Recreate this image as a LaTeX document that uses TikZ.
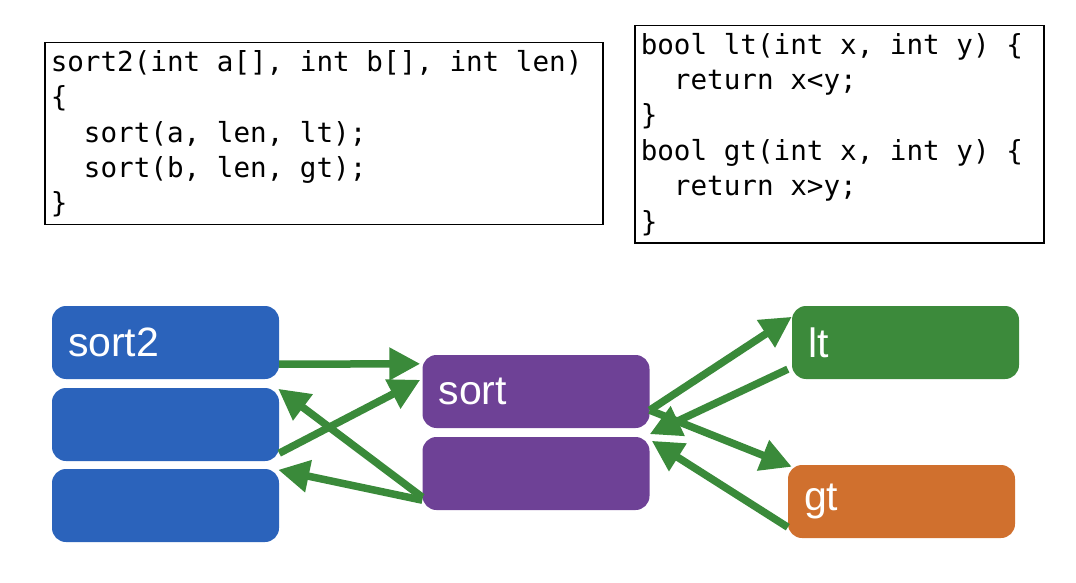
\documentclass[tikz,border=0pt]{standalone}
\usepackage{fontspec}
\setmainfont{Liberation Sans}
\newfontfamily\codefont{DejaVu Sans Mono}
\usetikzlibrary{arrows.meta}
\definecolor{blockblue}{HTML}{2B63BB}
\definecolor{blockpurple}{HTML}{6E4196}
\definecolor{blockgreen}{HTML}{3C8A3B}
\definecolor{blockorange}{HTML}{D0702E}
\definecolor{callgreen}{HTML}{3A8A3A}
% one monospaced blank
\newcommand{\spc}{\hphantom{x}}
\newcommand{\codeindent}{\hphantom{xx}}
\tikzset{
  codebox/.style={draw,line width=1.5pt,anchor=north west,align=left,
    inner xsep=6pt,inner ysep=0pt,
    font=\codefont\fontsize{27.6}{35.4}\selectfont},
  block/.style={rounded corners=14pt,minimum width=227pt,minimum height=73pt,
    text width=195pt,inner xsep=16pt,inner ysep=0pt,text=white,
    font=\fontsize{41}{48}\selectfont},
  call/.style={draw=callgreen,line width=7.5pt,
    -{Triangle[length=31pt,width=31pt]}}
}
\begin{document}
\begin{tikzpicture}[x=1pt,y=1pt]
  \useasboundingbox (0,0) rectangle (1076,582);
  % code
  \node[codebox,text width=546pt,minimum height=182pt] (sortcode) at (44,540)
    {sort2(int\spc a[],\spc int\spc b[],\spc int\spc len)\\
     \{\\
     \codeindent sort(a,\spc len,\spc lt);\\
     \codeindent sort(b,\spc len,\spc gt);\\
     \}};
  \node[codebox,text width=397pt,minimum height=217pt] (cmpcode) at (634,557)
    {bool\spc lt(int\spc x,\spc int\spc y)\spc \{\\
     \codeindent return\spc x<y;\\
     \}\\
     bool\spc gt(int\spc x,\spc int\spc y)\spc \{\\
     \codeindent return\spc x>y;\\
     \}};
  % frames
  \node[block,fill=blockblue] (sorttwo) at (165.5,239.5) {sort2};
  \node[block,fill=blockblue] (sorttwoa) at (165.5,157.5) {};
  \node[block,fill=blockblue] (sorttwob) at (165.5,76.5) {};
  \node[block,fill=blockpurple] (sortnode) at (536,190.5) {sort};
  \node[block,fill=blockpurple] (sortlow) at (536,108.5) {};
  \node[block,fill=blockgreen] (lt) at (905.5,239.5) {lt};
  \node[block,fill=blockorange] (gt) at (901.5,80.5) {gt};
  % calls
  \draw[call] ([yshift=15pt]sorttwo.south east) -- ([xshift=-2pt,yshift=-9pt]sortnode.north west);
  \draw[call] ([yshift=8pt]sorttwoa.south east) -- ([xshift=-2pt,yshift=-25pt]sortnode.north west);
  \draw[call] ([yshift=13pt]sortlow.south west) -- ([xshift=-1pt,yshift=-1pt]sorttwoa.north east);
  \draw[call] ([yshift=10pt]sortlow.south west) -- ([xshift=-1pt,yshift=-1pt]sorttwob.north east);
  \draw[call] ([yshift=18pt]sortnode.south east) -- ([yshift=-11pt]lt.north west);
  \draw[call] ([xshift=-4pt,yshift=10pt]lt.south west) -- ([yshift=-6pt]sortnode.south east);
  \draw[call] ([yshift=18pt]sortnode.south east) -- ([xshift=4pt,yshift=-2pt]gt.north west);
  \draw[call] ([yshift=11pt]gt.south west) -- ([xshift=2pt,yshift=-4pt]sortlow.north east);
\end{tikzpicture}
\end{document}
